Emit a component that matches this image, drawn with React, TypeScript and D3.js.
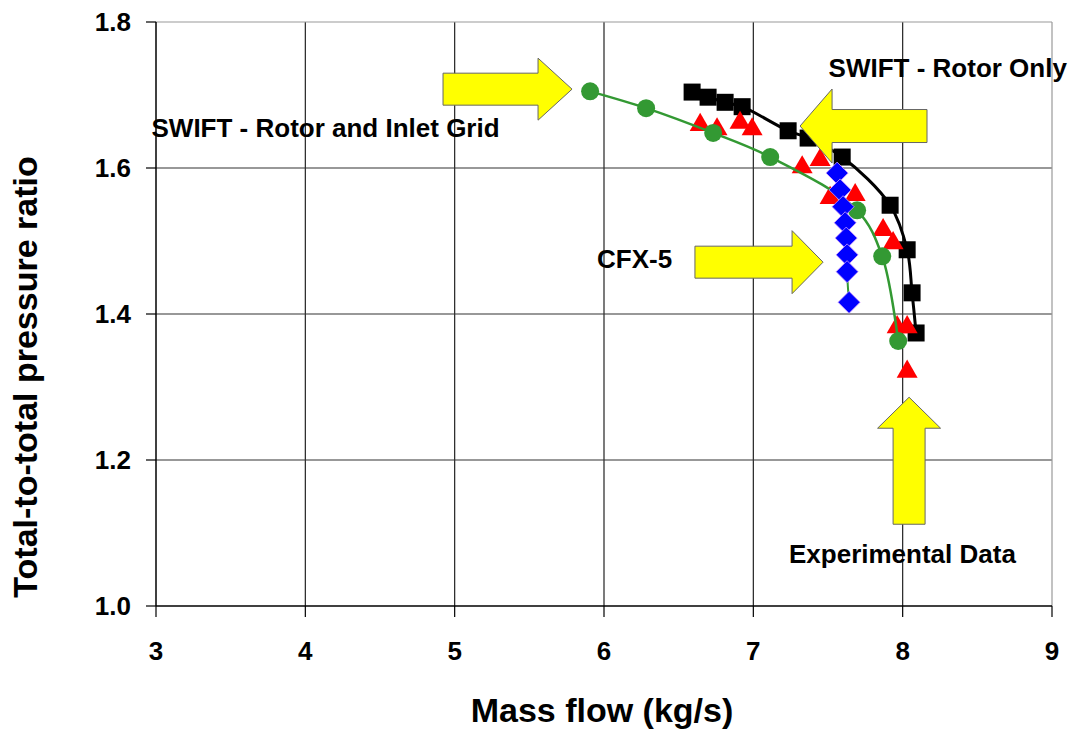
import * as d3 from "d3";

// Rotor and inlet grid (green circles)
const gridFlow = [5.907, 6.282, 6.731, 7.113, 7.695, 7.863, 7.97];
const gridRatio = [1.705, 1.682, 1.648, 1.615, 1.542, 1.479, 1.363];

// Rotor only (black squares)
const rotorFlow = [6.59, 6.697, 6.811, 6.925, 7.233, 7.367, 7.595, 7.916, 8.03, 8.063, 8.09];
const rotorRatio = [1.704, 1.697, 1.69, 1.684, 1.651, 1.641, 1.615, 1.549, 1.488, 1.429, 1.374];

// Experimental data (red triangles)
const expFlow = [6.644, 6.757, 6.911, 6.992, 7.327, 7.447, 7.514, 7.682, 7.869, 7.936, 7.963, 8.03, 8.03];
const expRatio = [1.659, 1.653, 1.662, 1.653, 1.601, 1.611, 1.559, 1.563, 1.515, 1.497, 1.382, 1.382, 1.321];

// CFX-5 (blue diamonds)
const cfxFlow = [7.561, 7.581, 7.601, 7.615, 7.622, 7.628, 7.628, 7.641];
const cfxRatio = [1.593, 1.57, 1.547, 1.525, 1.504, 1.481, 1.458, 1.416];

const xTicks = [3, 4, 5, 6, 7, 8, 9];
const yTicks = [1.0, 1.2, 1.4, 1.6, 1.8];

// callout labels and arrows (tail -> tip, data units)
const labels = [
  { text: "SWIFT - Rotor and Inlet Grid", x: 2.97, y: 1.6425, anchor: "start" },
  { text: "SWIFT - Rotor Only", x: 9.1, y: 1.7247, anchor: "end" },
  { text: "CFX-5", x: 5.953, y: 1.463, anchor: "start" },
  { text: "Experimental Data", x: 7.239, y: 1.059, anchor: "start" },
];
const arrows = [
  { from: [4.922, 1.708], to: [5.786, 1.708], body: 32, head: 62, len: 34 },
  { from: [8.163, 1.6575], to: [7.313, 1.6575], body: 33, head: 74, len: 32 },
  { from: [6.609, 1.471], to: [7.467, 1.471], body: 32, head: 63, len: 31 },
  { from: [8.043, 1.112], to: [8.043, 1.286], body: 32, head: 63, len: 31 },
];

const W = 1073;
const H = 733;
const FONT = "'Liberation Sans', Arial, sans-serif";

const x = d3.scaleLinear().domain([3, 9]).range([156, 1052]);
const y = d3.scaleLinear().domain([1.0, 1.8]).range([606, 22]);

const zip = (a: number[], b: number[]) => a.map((v, i) => [v, b[i]] as [number, number]);

const arrowPath = (a: any) => {
  const x0 = x(a.from[0]), y0 = y(a.from[1]);
  const x1 = x(a.to[0]), y1 = y(a.to[1]);
  const L = Math.hypot(x1 - x0, y1 - y0);
  const ux = (x1 - x0) / L, uy = (y1 - y0) / L;
  const nx = -uy, ny = ux;
  const bx = x1 - ux * a.len, by = y1 - uy * a.len;
  const b = a.body / 2, h = a.head / 2;
  const pts = [
    [x0 + nx * b, y0 + ny * b],
    [bx + nx * b, by + ny * b],
    [bx + nx * h, by + ny * h],
    [x1, y1],
    [bx - nx * h, by - ny * h],
    [bx - nx * b, by - ny * b],
    [x0 - nx * b, y0 - ny * b],
  ];
  return "M" + pts.map((p) => p.join(",")).join("L") + "Z";
};

export default function App() {
  const line = d3
    .line<[number, number]>()
    .x((d) => x(d[0]))
    .y((d) => y(d[1]))
    .curve(d3.curveCatmullRom.alpha(0.5));

  const grid = zip(gridFlow, gridRatio);
  const rotor = zip(rotorFlow, rotorRatio);
  const exp = zip(expFlow, expRatio);
  const cfx = zip(cfxFlow, cfxRatio);

  const tri = d3.symbol(d3.symbolTriangle, 190)()!;
  const sq = 17;
  const dia = 11;

  return (
    <svg width={W} height={H} style={{ display: "block", position: "absolute", left: 0, top: 0 }}>
      <rect width={W} height={H} fill="#fff" />
      {/* grid */}
      {xTicks.slice(1, -1).map((t) => (
        <line key={"gx" + t} x1={x(t)} x2={x(t)} y1={y(1.8)} y2={y(1.0)} stroke="#222" strokeWidth={1.2} />
      ))}
      {yTicks.slice(1, -1).map((t) => (
        <line key={"gy" + t} x1={x(3)} x2={x(9)} y1={y(t)} y2={y(t)} stroke="#333" strokeWidth={1.2} />
      ))}
      <line x1={x(3)} x2={x(9)} y1={y(1.8)} y2={y(1.8)} stroke="#999" strokeWidth={1.2} />
      <line x1={x(9)} x2={x(9)} y1={y(1.8)} y2={y(1.0)} stroke="#999" strokeWidth={1.2} />
      {/* axes */}
      <line x1={x(3)} x2={x(9)} y1={y(1.0)} y2={y(1.0)} stroke="#000" strokeWidth={1.5} />
      <line x1={x(3)} x2={x(3)} y1={y(1.8)} y2={y(1.0)} stroke="#000" strokeWidth={1.5} />
      {xTicks.map((t) => (
        <g key={"xt" + t}>
          <line x1={x(t)} x2={x(t)} y1={y(1.0)} y2={y(1.0) + 11} stroke="#000" strokeWidth={1.2} />
          <text x={x(t)} y={660} textAnchor="middle" fontFamily={FONT} fontWeight="bold" fontSize={26}>
            {t}
          </text>
        </g>
      ))}
      {yTicks.map((t) => (
        <g key={"yt" + t}>
          <line x1={x(3) - 10} x2={x(3)} y1={y(t)} y2={y(t)} stroke="#000" strokeWidth={1.2} />
          <text x={131} y={y(t) + 9} textAnchor="end" fontFamily={FONT} fontWeight="bold" fontSize={26}>
            {t.toFixed(1)}
          </text>
        </g>
      ))}
      <text x={602} y={722} textAnchor="middle" fontFamily={FONT} fontWeight="bold" fontSize={34}>
        Mass flow (kg/s)
      </text>
      <text
        transform={`translate(37,377) rotate(-90)`}
        textAnchor="middle"
        fontFamily={FONT}
        fontWeight="bold"
        fontSize={34}
      >
        Total-to-total pressure ratio
      </text>

      {/* rotor only */}
      <path d={line(rotor)!} fill="none" stroke="#000" strokeWidth={3} />
      {rotor.map((d, i) => (
        <rect key={"sq" + i} x={x(d[0]) - sq / 2} y={y(d[1]) - sq / 2} width={sq} height={sq} fill="#000" />
      ))}
      {/* experimental */}
      {exp.map((d, i) => (
        <path key={"tr" + i} d={tri} transform={`translate(${x(d[0])},${y(d[1])})`} fill="#ff0000" />
      ))}
      {/* rotor + inlet grid */}
      <path d={line(grid)!} fill="none" stroke="#339933" strokeWidth={2.5} />
      {grid.map((d, i) => (
        <circle key={"ci" + i} cx={x(d[0])} cy={y(d[1])} r={9} fill="#339933" />
      ))}
      {/* CFX-5 */}
      <path d={line(cfx)!} fill="none" stroke="#339933" strokeWidth={2} />
      {cfx.map((d, i) => (
        <path
          key={"di" + i}
          d={`M0,${-dia}L${dia},0L0,${dia}L${-dia},0Z`}
          transform={`translate(${x(d[0])},${y(d[1])})`}
          fill="#0000ff"
          stroke="#cc99ff"
          strokeWidth={0.8}
        />
      ))}

      {/* callouts */}
      {arrows.map((a, i) => (
        <path key={"ar" + i} d={arrowPath(a)} fill="#ffff00" stroke="#666" strokeWidth={1} />
      ))}
      {labels.map((l, i) => (
        <text
          key={"lb" + i}
          x={x(l.x)}
          y={y(l.y)}
          textAnchor={l.anchor}
          fontFamily={FONT}
          fontWeight="bold"
          fontSize={26}
        >
          {l.text}
        </text>
      ))}
    </svg>
  );
}
